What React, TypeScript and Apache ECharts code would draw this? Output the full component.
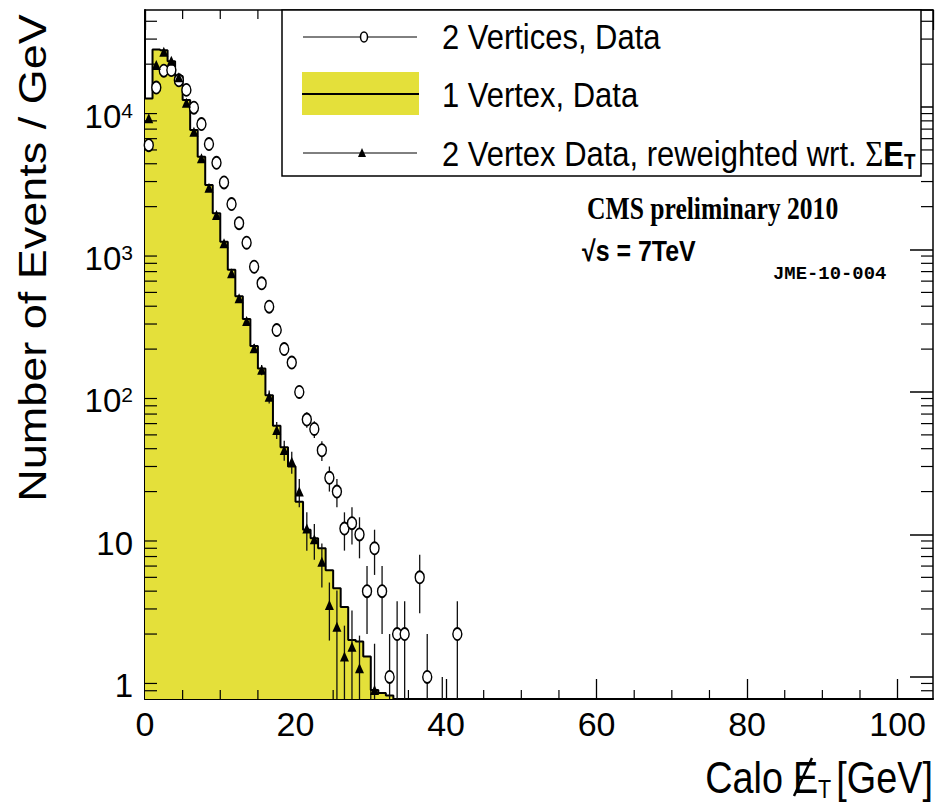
import React, { useEffect, useRef } from "react";
import * as echarts from "echarts";

// ---------------- data (bins of 1 GeV starting at 0) ----------------
const BIN_WIDTH = 1;

// 1 Vertex, Data : yellow histogram, bins 0..32
const oneVertexValues = [
  11500, 25400, 25000, 21000, 16500, 11200, 6900, 4480, 2840, 1800,
  1135, 720, 470, 325, 210, 146, 95, 58, 41, 30,
  17, 10.8, 9.4, 8.0, 5.6, 4.2, 3.1, 1.82, 1.77, 1.39,
  0.81, 0.77, 0.74,
];

// 2 Vertices, Data : open circles
const twoVertexBins = [
  0, 1, 2, 3, 4, 5, 6, 7, 8, 9, 10, 11, 12, 13, 14, 15, 16, 17, 18, 19,
  20, 21, 22, 23, 24, 25, 26, 27, 28, 29, 30, 31, 32, 33, 34, 36, 37, 41,
];
const twoVertexValues = [
  5400, 13700, 18000, 18200, 15400, 13200, 9900, 7600, 5500, 4060,
  2960, 2085, 1530, 1116, 757, 579, 397, 272, 200, 161,
  100, 64, 55, 39, 25, 20, 11, 12, 10, 4, 8, 4, 1, 2, 2, 5, 1, 2,
];
const twoVertexErrors = [
  74, 117, 134, 135, 124, 115, 99, 87, 74, 64,
  54, 46, 39, 33, 28, 24, 20, 16, 14, 13,
  10, 8, 7.4, 6.2, 5, 4.5, 3.3, 3.5, 3.2, 2, 2.8, 2, 1, 1.4, 1.4, 2.2, 1, 1.4,
];

// 2 Vertex Data, reweighted wrt. Sum E_T : filled triangles
const reweightedBins = [
  0, 1, 2, 3, 4, 5, 6, 7, 8, 9, 10, 11, 12, 13, 14, 15, 16, 17, 18, 19,
  20, 21, 22, 23, 24, 25, 26, 27, 28, 30, 39,
];
const reweightedValues = [
  8340, 19700, 24400, 21100, 16200, 10700, 6710, 4370, 2715, 1746,
  1106, 681, 455, 315, 203, 143, 92.7, 54.1, 39.2, 32.4,
  20, 11.0, 9.25, 6.44, 3.2, 2.25, 1.39, 1.63, 1.15, 0.81, 0.3,
];
const reweightedErrors = [
  90, 140, 156, 145, 127, 103, 82, 66, 52, 42,
  33, 26, 21, 18, 14, 12, 9.6, 7.4, 6.3, 5.7,
  4.5, 3.3, 2.6, 2.2, 1.4, 1.8, 0.9, 1.3, 0.8, 0.9, 0.7,
];

// axes
const X_MIN = 0;
const X_MAX = 104.7;
const X_MAJOR = 20;
const xMinorTicks = [5, 10, 15, 25, 30, 35, 45, 50, 55, 65, 70, 75, 85, 90, 95];
const Y_MIN = 0.7;
const Y_MAX = 48000;
const yMinorMantissas = [2, 3, 4, 5, 6, 7, 8, 9];
const yDecades = [1, 10, 100, 1000];
const yExtraMinor = [0.8, 0.9, 20000, 30000, 40000];

const YELLOW = "#e4e03a";
const SANS = "'Liberation Sans', Arial, Helvetica, sans-serif";
const SERIF = "'Liberation Serif', 'Times New Roman', serif";
const MONO = "'Liberation Mono', 'DejaVu Sans Mono', monospace";

function buildOption(): echarts.EChartsOption {
  const histPoints: number[][] = oneVertexValues.map((v, i) => [i * BIN_WIDTH, v]);
  const nBins = oneVertexValues.length;
  histPoints.push([nBins * BIN_WIDTH, oneVertexValues[nBins - 1]]);
  histPoints.push([nBins * BIN_WIDTH, Y_MIN]);

  const center = (b: number) => (b + 0.5) * BIN_WIDTH;

  const circlePts = twoVertexBins.map((b, i) => [center(b), twoVertexValues[i]]);
  const trianglePts = reweightedBins.map((b, i) => [center(b), reweightedValues[i]]);

  const errData = (bins: number[], vals: number[], errs: number[]) =>
    bins
      .map((b, i) => [
        center(b),
        Math.max(vals[i] - errs[i], Y_MIN),
        Math.min(vals[i] + errs[i], Y_MAX),
      ])
      .filter((d) => d[2] > d[1]);

  const circleErr = errData(twoVertexBins, twoVertexValues, twoVertexErrors);
  const triErr = errData(reweightedBins, reweightedValues, reweightedErrors);

  const minorData: number[][] = [];
  yDecades.forEach((d) => yMinorMantissas.forEach((m) => minorData.push([0, m * d])));
  yExtraMinor.forEach((v) => minorData.push([0, v]));
  xMinorTicks.forEach((v) => minorData.push([1, v]));

  const errRender = (params: any, api: any) => {
    const x = api.value(0);
    const a = api.coord([x, api.value(1)]);
    const b = api.coord([x, api.value(2)]);
    return {
      type: "line",
      shape: { x1: a[0], y1: a[1], x2: b[0], y2: b[1] },
      style: { stroke: "#111", lineWidth: 1.3 },
    };
  };

  const minorRender = (params: any, api: any) => {
    const kind = api.value(0);
    const v = api.value(1);
    const st = { stroke: "#000", lineWidth: 1.2 };
    if (kind === 0) {
      const l = api.coord([X_MIN, v]);
      const r = api.coord([X_MAX, v]);
      return {
        type: "group",
        children: [
          { type: "line", shape: { x1: l[0], y1: l[1], x2: l[0] + 12, y2: l[1] }, style: st },
          { type: "line", shape: { x1: r[0], y1: r[1], x2: r[0] - 12, y2: r[1] }, style: st },
        ],
      };
    }
    const bt = api.coord([v, Y_MIN]);
    const tp = api.coord([v, Y_MAX]);
    return {
      type: "group",
      children: [
        { type: "line", shape: { x1: bt[0], y1: bt[1], x2: bt[0], y2: bt[1] - 9 }, style: st },
        { type: "line", shape: { x1: tp[0], y1: tp[1], x2: tp[0], y2: tp[1] + 9 }, style: st },
      ],
    };
  };

  const txt = (
    text: string,
    x: number,
    y: number,
    fontSize: number,
    extra: any = {},
    styleExtra: any = {}
  ) => ({
    type: "text",
    x,
    y,
    z: 101,
    ...extra,
    style: {
      text,
      fontSize,
      fontFamily: SANS,
      fill: "#000",
      align: "left",
      textAlign: "left",
      verticalAlign: "middle",
      textVerticalAlign: "middle",
      ...styleExtra,
    },
  });

  return {
    animation: false,
    backgroundColor: "#ffffff",
    grid: { left: 145, right: 2, top: 10, bottom: 107, show: false },
    xAxis: [
      {
        type: "value",
        min: X_MIN,
        max: X_MAX,
        interval: X_MAJOR,
        position: "bottom",
        axisLine: { show: true, onZero: false, lineStyle: { color: "#000", width: 2 } },
        axisTick: { show: true, inside: true, length: 20, lineStyle: { color: "#000", width: 1.3 } },
        axisLabel: {
          show: true,
          showMinLabel: true,
          showMaxLabel: false,
          margin: 8,
          fontSize: 34,
          fontFamily: SANS,
          color: "#000",
          formatter: (v: number) => String(v),
        },
        splitLine: { show: false },
      },
      {
        type: "value",
        min: X_MIN,
        max: X_MAX,
        interval: X_MAJOR,
        position: "top",
        axisLine: { show: true, onZero: false, lineStyle: { color: "#000", width: 1.5 } },
        axisTick: { show: true, inside: true, length: 20, lineStyle: { color: "#000", width: 1.3 } },
        axisLabel: { show: false },
        splitLine: { show: false },
      },
    ],
    yAxis: [
      {
        type: "log",
        logBase: 10,
        min: Y_MIN,
        max: Y_MAX,
        position: "left",
        axisLine: { show: true, onZero: false, lineStyle: { color: "#000", width: 2 } },
        axisTick: { show: true, inside: true, length: 23, lineStyle: { color: "#000", width: 1.5 } },
        axisLabel: {
          show: true,
          showMinLabel: false,
          showMaxLabel: false,
          margin: 12,
          padding: [18, 0, 0, 0],
          formatter: (v: number) => {
            const e = Math.round(Math.log10(v));
            if (e === 0) return "{b|1}";
            if (e === 1) return "{b|10}";
            return `{b|10}{p|${e}}`;
          },
          rich: {
            b: { fontSize: 33, fontFamily: SANS, color: "#000" },
            p: { fontSize: 21, fontFamily: SANS, color: "#000", padding: [0, 0, 12, 0] },
          },
        },
        splitLine: { show: false },
      },
      {
        type: "log",
        logBase: 10,
        min: Y_MIN,
        max: Y_MAX,
        position: "right",
        axisLine: { show: true, onZero: false, lineStyle: { color: "#000", width: 1.5 } },
        axisTick: { show: true, inside: true, length: 23, lineStyle: { color: "#000", width: 1.5 } },
        axisLabel: { show: false },
        splitLine: { show: false },
      },
    ],
    series: [
      {
        name: "1 Vertex, Data",
        type: "line",
        step: "end",
        symbol: "none",
        data: histPoints,
        xAxisIndex: 0,
        yAxisIndex: 0,
        lineStyle: { color: "#000", width: 2 },
        areaStyle: { color: YELLOW, opacity: 1, origin: "start" },
        z: 1,
        silent: true,
      },
      {
        type: "custom",
        name: "minor ticks",
        xAxisIndex: 0,
        yAxisIndex: 0,
        renderItem: minorRender as any,
        data: minorData,
        z: 4,
        silent: true,
      },
      {
        type: "custom",
        name: "2 Vertices errors",
        xAxisIndex: 0,
        yAxisIndex: 0,
        renderItem: errRender as any,
        encode: { x: 0, y: [1, 2] },
        data: circleErr,
        z: 3,
        silent: true,
      },
      {
        type: "custom",
        name: "reweighted errors",
        xAxisIndex: 0,
        yAxisIndex: 0,
        renderItem: errRender as any,
        encode: { x: 0, y: [1, 2] },
        data: triErr,
        z: 3,
        silent: true,
      },
      {
        name: "2 Vertices, Data",
        type: "scatter",
        symbol: "circle",
        symbolSize: [9, 12],
        data: circlePts,
        itemStyle: { color: "#fff", borderColor: "#000", borderWidth: 1.6, opacity: 1 },
        z: 5,
        silent: true,
      },
      {
        name: "2 Vertex Data, reweighted wrt. ΣE_T",
        type: "scatter",
        symbol: "triangle",
        symbolSize: [9, 10],
        data: trianglePts,
        itemStyle: { color: "#000", opacity: 1 },
        z: 6,
        silent: true,
      },
    ],
    graphic: [
      // legend box
      {
        type: "rect",
        z: 100,
        shape: { x: 282, y: 10, width: 639, height: 166 },
        style: { fill: "#fff", stroke: "#000", lineWidth: 1.5 },
      },
      { type: "line", z: 101, shape: { x1: 303, y1: 37, x2: 417, y2: 37 }, style: { stroke: "#000", lineWidth: 1 } },
      {
        type: "ellipse",
        z: 102,
        shape: { cx: 364, cy: 37, rx: 3.5, ry: 5 },
        style: { fill: "#fff", stroke: "#000", lineWidth: 1.5 },
      },
      { type: "rect", z: 101, shape: { x: 302, y: 72, width: 117, height: 43 }, style: { fill: YELLOW } },
      { type: "line", z: 102, shape: { x1: 302, y1: 94, x2: 419, y2: 94 }, style: { stroke: "#000", lineWidth: 2 } },
      { type: "line", z: 101, shape: { x1: 303, y1: 153, x2: 417, y2: 153 }, style: { stroke: "#000", lineWidth: 1 } },
      {
        type: "polygon",
        z: 102,
        shape: { points: [[362, 148], [358, 157], [366, 157]] },
        style: { fill: "#000" },
      },
      txt("2 Vertices, Data", 442, 37, 36, { scaleX: 0.86 }),
      txt("1 Vertex, Data", 442, 95, 36, { scaleX: 0.86 }),
      txt("2 Vertex Data, reweighted wrt. {s|Σ}{e|E}{t|T}", 442, 154, 36, { scaleX: 0.86 }, {
        rich: {
          s: { fontSize: 36, fontFamily: SERIF, fill: "#000" },
          e: { fontSize: 36, fontFamily: SANS, fontWeight: "bold", fill: "#000" },
          t: { fontSize: 22, fontFamily: SANS, fontWeight: "bold", fill: "#000", padding: [14, 0, 0, 0] },
        },
      }),
      // annotations
      txt("CMS preliminary 2010", 587, 208, 32, { scaleX: 0.8 }, { fontFamily: SERIF, fontWeight: "bold" }),
      txt("√s = 7TeV", 582, 251, 29, { scaleX: 0.86 }, { fontWeight: "bold" }),
      txt("JME-10-004", 773, 275, 18, { scaleX: 1.05 }, { fontFamily: MONO, fontWeight: "bold" }),
      // y axis title
      txt("Number of Events / GeV", 33, 258, 45, { rotation: Math.PI / 2, scaleY: 0.86 }, {
        align: "center",
        textAlign: "center",
      }),
      // x axis title: Calo E_T(slashed) [GeV]
      txt("Calo", 783, 778, 44, { scaleX: 0.86 }, { align: "right", textAlign: "right" }),
      txt("E", 793, 778, 44, { scaleX: 0.86 }),
      {
        type: "line",
        z: 102,
        shape: { x1: 794, y1: 796, x2: 812, y2: 758 },
        style: { stroke: "#000", lineWidth: 2.5 },
      },
      txt("T", 818, 789, 25, { scaleX: 0.86 }),
      txt("[GeV]", 933, 778, 44, { scaleX: 0.86 }, { align: "right", textAlign: "right" }),
    ] as any,
  };
}

export default function App() {
  const ref = useRef<HTMLDivElement>(null);
  useEffect(() => {
    document.body.style.margin = "0";
    if (!ref.current) return;
    const chart = echarts.init(ref.current, undefined, { renderer: "svg" });
    chart.setOption(buildOption());
    return () => {
      chart.dispose();
    };
  }, []);
  return (
    <div
      ref={ref}
      style={{ position: "absolute", left: 0, top: 0, width: 935, height: 806, background: "#fff" }}
    />
  );
}
